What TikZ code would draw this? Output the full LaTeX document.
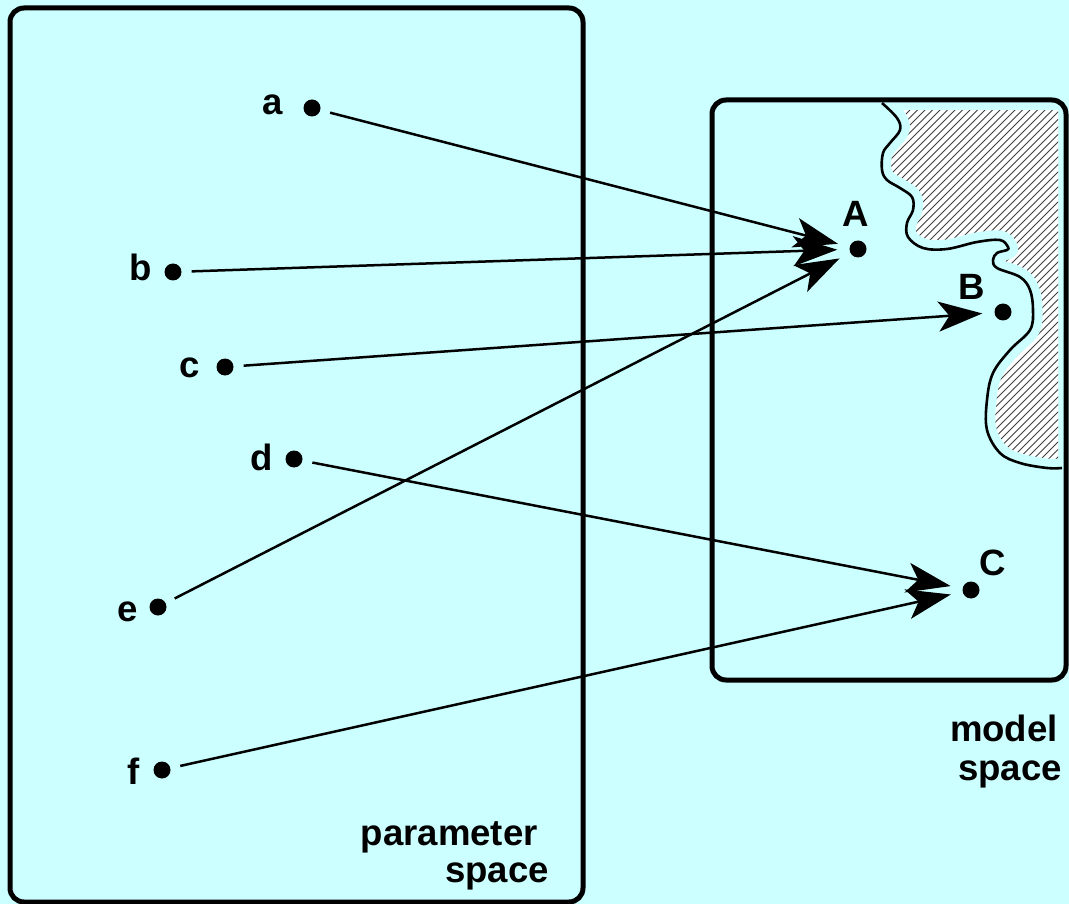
\documentclass[tikz,border=0pt]{standalone}
\usepackage{fontspec}
\setmainfont{Liberation Sans}
\usetikzlibrary{arrows.meta}
\definecolor{bgcyan}{HTML}{CCFFFF}
\begin{document}
\begin{tikzpicture}[x=1pt,y=-1pt,
  boxframe/.style={draw=black,line width=5pt,rounded corners=14pt,fill=bgcyan},
  dot/.style={circle,fill=black,inner sep=0pt,minimum size=17pt},
  lbl/.style={inner sep=0pt,font=\fontsize{36.6}{40}\selectfont\bfseries},
  arr/.style={line width=2.5pt,-{Stealth[length=44pt,width=30pt,inset=11pt]},shorten <=10pt,shorten >=12pt},
  hatch/.style={line width=0.8pt,black!75},
  coast/.style={line width=2.6pt,black,line join=round}]
\useasboundingbox (0,0) rectangle (1069,904);
\fill[bgcyan] (0,0) rectangle (1069,904);
% boxes (fill)
\path[boxframe,draw=none] (10,8) rectangle (583,902);
\path[boxframe,draw=none] (712,100) rectangle (1066,680);
% hatched land
\begin{scope}
  \clip (700,111) rectangle (1058,465);
  \clip plot[smooth,tension=0.6] coordinates {(882,103) (897,118) (900,130) (890,143) (883,153) (882,170) (887,180) (900,188) (912,197) (913,210) (907,223) (908,237) (923,248) (947,249) (977,242) (1000,240) (1008,247) (1007,250) (997,253) (993,260) (997,268) (1020,277) (1030,290) (1033,310) (1030,330) (1010,350) (993,373) (987,400) (987,430) (1000,453) (1020,463) (1047,468) (1062,468)} -- (1100,468) -- (1100,80) -- (882,80) -- cycle;
  \fill[white] (700,80) rectangle (1100,480);
  \foreach \i in {0,...,95} {\draw[hatch] (480+7.5*\i,480) -- ++(400,-400);}
\end{scope}
\draw[coast,bgcyan,line width=19pt] plot[smooth,tension=0.6] coordinates {(882,103) (897,118) (900,130) (890,143) (883,153) (882,170) (887,180) (900,188) (912,197) (913,210) (907,223) (908,237) (923,248) (947,249) (977,242) (1000,240) (1008,247) (1007,250) (997,253) (993,260) (997,268) (1020,277) (1030,290) (1033,310) (1030,330) (1010,350) (993,373) (987,400) (987,430) (1000,453) (1020,463) (1047,468) (1062,468)};
\draw[coast] plot[smooth,tension=0.6] coordinates {(882,103) (897,118) (900,130) (890,143) (883,153) (882,170) (887,180) (900,188) (912,197) (913,210) (907,223) (908,237) (923,248) (947,249) (977,242) (1000,240) (1008,247) (1007,250) (997,253) (993,260) (997,268) (1020,277) (1030,290) (1033,310) (1030,330) (1010,350) (993,373) (987,400) (987,430) (1000,453) (1020,463) (1047,468) (1062,468)};
% box borders
\draw[boxframe,fill=none] (10,8) rectangle (583,902);
\draw[boxframe,fill=none] (712,100) rectangle (1066,680);
% dots
\node[dot] (a) at (312,108) {};
\node[dot] (b) at (173,272) {};
\node[dot] (c) at (225,367) {};
\node[dot] (d) at (294,459) {};
\node[dot] (e) at (158,607) {};
\node[dot] (f) at (162,770) {};
\node[dot] (A) at (858,249) {};
\node[dot] (B) at (1003,312) {};
\node[dot] (C) at (971,590) {};
% labels
\node[lbl,anchor=base] (la) at (273,115) {a};
\node[lbl,anchor=base] (lb) at (141,280) {b};
\node[lbl,anchor=base] (lc) at (190,377) {c};
\node[lbl,anchor=base] (ld) at (262,470) {d};
\node[lbl,anchor=base] (le) at (128,621) {e};
\node[lbl,anchor=base] (lf) at (134,784) {f};
\node[lbl,anchor=base] (lA) at (856,227) {A};
\node[lbl,anchor=base] (lB) at (972,300) {B};
\node[lbl,anchor=base] (lC) at (993,575) {C};
\node[lbl,anchor=base east] (m1) at (1058,741) {model};
\node[lbl,anchor=base east] (m2) at (1062,780) {space};
\node[lbl,anchor=base east] (p1) at (538,845) {parameter};
\node[lbl,anchor=base east] (p2) at (549,882) {space};
% arrows
\draw[arr] (a) -- (A);
\draw[arr] (b) -- (A);
\draw[arr] (e) -- (A);
\draw[arr] (c) -- (B);
\draw[arr] (d) -- (C);
\draw[arr] (f) -- (C);
\end{tikzpicture}
\end{document}
